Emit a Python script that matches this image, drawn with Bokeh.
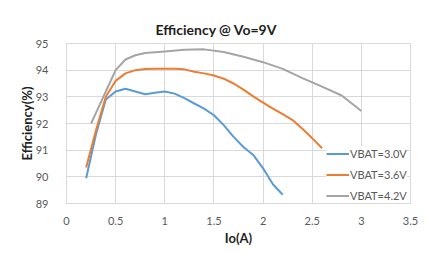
from bokeh.plotting import figure
from bokeh.models import Legend, LegendItem, FixedTicker, Title
from bokeh.embed import file_html
from bokeh.resources import INLINE

# Data
x_30 = [0.2, 0.3, 0.4, 0.5, 0.6, 0.7, 0.8, 0.9, 1.0, 1.1, 1.2, 1.3, 1.4, 1.5, 1.6, 1.7, 1.8, 1.9, 2.0, 2.1, 2.2]
y_30 = [89.95, 91.6, 92.9, 93.2, 93.3, 93.2, 93.1, 93.15, 93.2, 93.12, 92.95, 92.75, 92.56, 92.31,
        91.94, 91.5, 91.12, 90.82, 90.32, 89.72, 89.33]

x_36 = [0.2, 0.3, 0.4, 0.5, 0.6, 0.7, 0.8, 0.9, 1.0, 1.1, 1.2, 1.3, 1.4, 1.5, 1.6, 1.7, 1.8, 1.9,
        2.0, 2.1, 2.2, 2.3, 2.4, 2.5, 2.6]
y_36 = [90.35, 91.75, 93.0, 93.6, 93.88, 94.0, 94.04, 94.05, 94.05, 94.05, 94.03, 93.94, 93.88, 93.8,
        93.68, 93.5, 93.27, 93.02, 92.78, 92.56, 92.35, 92.13, 91.8, 91.45, 91.07]

x_42 = [0.25, 0.3, 0.4, 0.5, 0.6, 0.7, 0.8, 0.9, 1.0, 1.2, 1.4, 1.6, 1.8, 2.0, 2.2, 2.4, 2.6, 2.8, 3.0]
y_42 = [92.0, 92.4, 93.2, 94.0, 94.4, 94.56, 94.64, 94.67, 94.7, 94.77, 94.78, 94.68, 94.5, 94.3,
        94.05, 93.7, 93.38, 93.05, 92.47]

series_names = ["VBAT=3.0V", "VBAT=3.6V", "VBAT=4.2V"]
series_colors = ["#5B9BD5", "#ED7D31", "#A5A5A5"]

x_ticks = [0, 0.5, 1, 1.5, 2, 2.5, 3, 3.5]
x_tick_labels = ["0", "0.5", "1", "1.5", "2", "2.5", "3", "3.5"]
y_ticks = [89, 90, 91, 92, 93, 94, 95]

FONT = "Lato"
GRID = "#d9d9d9"
TXT = "#595959"
DARK = "#1e1e1e"

p = figure(frame_width=344, frame_height=160, x_range=(0, 3.5), y_range=(89, 95),
           output_backend="svg", toolbar_location=None,
           min_border_left=66, min_border_right=10, min_border_top=43, min_border_bottom=40)

p.title = Title(text="Efficiency @ Vo=9V", align="left", offset=89, standoff=11,
                text_font=FONT, text_font_size="14px", text_font_style="bold",
                text_color=DARK)

p.outline_line_color = GRID
p.xgrid.grid_line_color = GRID
p.ygrid.grid_line_color = GRID
p.xgrid.ticker = FixedTicker(ticks=x_ticks)
p.ygrid.ticker = FixedTicker(ticks=y_ticks)

for ax in (p.xaxis[0], p.yaxis[0]):
    ax.axis_line_color = GRID
    ax.major_tick_line_color = None
    ax.minor_tick_line_color = None
    ax.major_label_text_font = FONT
    ax.major_label_text_font_size = "11px"
    ax.major_label_text_color = TXT
    ax.axis_label_text_font = FONT
    ax.axis_label_text_font_size = "13px"
    ax.axis_label_text_font_style = "bold"
    ax.axis_label_text_color = DARK

p.xaxis.ticker = FixedTicker(ticks=x_ticks)
p.xaxis.major_label_overrides = {t: l for t, l in zip(x_ticks, x_tick_labels)}
p.yaxis.ticker = FixedTicker(ticks=y_ticks)
p.xaxis.axis_label = "Io(A)"
p.yaxis.axis_label = "Efficiency(%)"
p.xaxis.major_label_standoff = 7
p.yaxis.major_label_standoff = 12
p.xaxis.axis_label_standoff = 2
p.yaxis.axis_label_standoff = -2

renderers = []
for xs, ys, c in zip([x_30, x_36, x_42], [y_30, y_36, y_42], series_colors):
    r = p.line(xs, ys, line_color=c, line_width=2, line_join="round")
    renderers.append(r)

legend = Legend(items=[LegendItem(label=n, renderers=[r]) for n, r in zip(series_names, renderers)],
                location=(260, 0), glyph_width=23, glyph_height=15, label_height=15,
                spacing=6, padding=3, margin=0, label_standoff=1,
                label_text_font=FONT, label_text_font_size="11px", label_text_color=TXT,
                border_line_color=None, background_fill_color="white", background_fill_alpha=1)
p.add_layout(legend)

open("out.html", "w").write(file_html(p, INLINE))
